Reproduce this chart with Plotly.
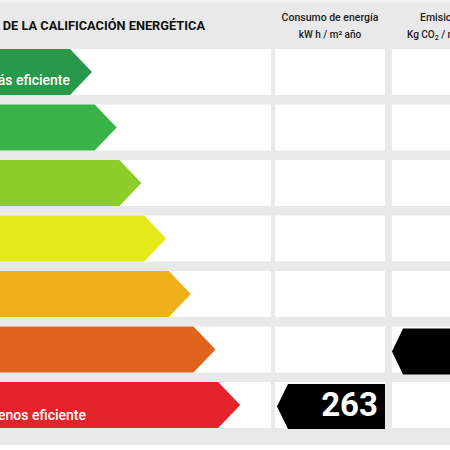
import plotly.graph_objects as go

# ---- data ----
clases = ["A", "B", "C", "D", "E", "F", "G"]
etiquetas = ["Más eficiente", "", "", "", "", "", "Menos eficiente"]
titulo = "ESCALA DE LA CALIFICACIÓN ENERGÉTICA"
col_consumo = ["Consumo de energía", "kW h / m² año"]
col_emisiones = ["Emisiones de dióxido de carbono", "Kg CO<sub>2</sub> / m² año"]
consumo_clase = "G"
consumo_valor = 263
emisiones_clase = "F"

# ---- style ----
colores = ["#28994a", "#39b449", "#8ccc2b", "#e5e918", "#eeb11c", "#df651e", "#e4232a"]
BG = "#e9e9e9"
ROW_TOP0, PITCH, ROW_H = 49.0, 55.5, 46.0
TIP0, TIP_STEP, DEPTH = 92.0, 24.7, 22.0
COL1 = (-20, 271)
COL2 = (275, 385)
COL3 = (392, 470)

def row_top(i):
    return ROW_TOP0 + PITCH * i

def text_trace(x, y, text, pos, size, color, weight, family="Roboto"):
    return go.Scatter(x=[x], y=[y], mode="text", text=[text], textposition=pos,
                      textfont=dict(family=family, size=size, color=color, weight=weight),
                      hoverinfo="skip", showlegend=False)

fig = go.Figure()
shapes = []
shapes.append(dict(type="rect", xref="x", yref="y", x0=-20, x1=470, y0=-5, y1=2.5,
                   fillcolor="#f2f2f2", line_width=0, layer="below"))
shapes.append(dict(type="rect", xref="x", yref="y", x0=-20, x1=470, y0=445, y1=460,
                   fillcolor="#ffffff", line_width=0, layer="below"))
for i, c in enumerate(clases):
    t = row_top(i)
    for (a, b) in (COL1, COL2, COL3):
        shapes.append(dict(type="rect", xref="x", yref="y", x0=a, x1=b, y0=t, y1=t + ROW_H,
                           fillcolor="#ffffff", line_width=0, layer="below"))

# colored arrows
for i, c in enumerate(clases):
    t = row_top(i)
    b = t + ROW_H
    m = (t + b) / 2
    tip = TIP0 + TIP_STEP * i
    xs = [-20, tip - DEPTH, tip, tip - DEPTH, -20, -20]
    ys = [t, t, m, b, b, t]
    fig.add_trace(go.Scatter(x=xs, y=ys, fill="toself", fillcolor=colores[i],
                             mode="lines", line=dict(width=0), hoverinfo="skip",
                             showlegend=False))
    if etiquetas[i]:
        ty = m + 9 if i == 0 else m + 11
        fig.add_trace(text_trace(70 if i == 0 else 86, ty, etiquetas[i], "middle left",
                                 14, "white", 500))

# black indicator: consumo
gi = clases.index(consumo_clase)
t = row_top(gi) + 2
b = t + ROW_H - 1
m = (t + b) / 2
fig.add_trace(go.Scatter(x=[COL2[0] + 2, COL2[0] + 13, COL2[1], COL2[1], COL2[0] + 13, COL2[0] + 2],
                         y=[m, t, t, b, b, m], fill="toself", fillcolor="#000000",
                         mode="lines", line=dict(width=0), hoverinfo="skip", showlegend=False))
fig.add_trace(text_trace(COL2[1] - 7, m + 1, str(consumo_valor), "middle left", 33, "white", 700))

# black indicator: emisiones
ei = clases.index(emisiones_clase)
t = row_top(ei) + 2
b = t + ROW_H
m = (t + b) / 2
fig.add_trace(go.Scatter(x=[COL3[0], COL3[0] + 11, COL3[1], COL3[1], COL3[0] + 11, COL3[0]],
                         y=[m, t, t, b, b, m], fill="toself", fillcolor="#000000",
                         mode="lines", line=dict(width=0), hoverinfo="skip", showlegend=False))

# header texts
fig.add_trace(text_trace(205, 27, titulo, "middle left", 12.8, "#111111", 700))
fig.add_trace(text_trace(330, 18, col_consumo[0], "middle center", 10.5, "#222222", 500))
fig.add_trace(text_trace(330, 35, col_consumo[1], "middle center", 10, "#222222", 500))
fig.add_trace(text_trace(420, 18, col_emisiones[0], "middle right", 10.5, "#222222", 500))
fig.add_trace(text_trace(407, 35, col_emisiones[1], "middle right", 10, "#222222", 500))

fig.update_layout(
    width=450, height=450, margin=dict(l=0, r=0, t=0, b=0),
    paper_bgcolor=BG, plot_bgcolor=BG, shapes=shapes,
    xaxis=dict(range=[0, 450], visible=False, fixedrange=True),
    yaxis=dict(range=[450, 0], visible=False, fixedrange=True),
)
fig.write_html("out.html")
